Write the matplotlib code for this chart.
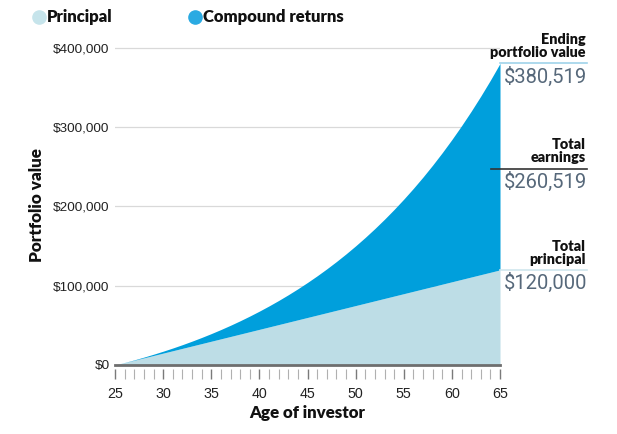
import matplotlib
matplotlib.use("Agg")
import matplotlib.pyplot as plt
from matplotlib.lines import Line2D
from matplotlib.ticker import FuncFormatter, MultipleLocator

# ---- data ----
ages = list(range(25, 66))
principal = [0, 3000, 6000, 9000, 12000, 15000, 18000, 21000, 24000, 27000,
             30000, 33000, 36000, 39000, 42000, 45000, 48000, 51000, 54000, 57000,
             60000, 63000, 66000, 69000, 72000, 75000, 78000, 81000, 84000, 87000,
             90000, 93000, 96000, 99000, 102000, 105000, 108000, 111000, 114000, 117000,
             120000]
total_value = [0, 3150, 6458, 9930, 13577, 17406, 21426, 25647, 30080, 34734,
               39620, 44751, 50139, 55796, 61736, 67973, 74521, 81397, 88617, 96198,
               104158, 112516, 121291, 130506, 140181, 150340, 161007, 172208, 183968, 196317,
               209282, 222897, 237191, 252201, 267961, 284509, 301884, 320129, 339285, 359399,
               380519]
y_ticks = [0, 100000, 200000, 300000, 400000]
x_ticks = [25, 30, 35, 40, 45, 50, 55, 60, 65]
legend_labels = ["Principal", "Compound returns"]
end_labels = ["Ending\nportfolio value", "Total\nearnings", "Total\nprincipal"]
end_values = ["$380,519", "$260,519", "$120,000"]

LIGHT = "#bddde6"
BLUE = "#009fdc"
TXT = "#222222"
VAL = "#56687a"
HEAD = ["Lato", "DejaVu Sans"]
HW = "heavy"
TICKF = ["Liberation Sans", "DejaVu Sans"]

W, H = 617, 434
fig = plt.figure(figsize=(W / 100, H / 100), dpi=100)

def fx(px):
    return px / W

def fy(py):
    return 1 - py / H

y0_px, top_px = 365, 40
px_per = 79.25 / 100000
ytop = (y0_px - top_px) / px_per
ax = fig.add_axes([fx(115), fy(y0_px), fx(500) - fx(115), (y0_px - top_px) / H])

ax.fill_between(ages, 0, principal, color=LIGHT, lw=0, zorder=2)
ax.fill_between(ages, principal, total_value, color=BLUE, lw=0, zorder=2)

ax.set_xlim(25, 65)
ax.set_ylim(0, ytop)
ax.set_yticks(y_ticks)
ax.yaxis.set_major_formatter(FuncFormatter(lambda v, p: f"${int(v):,}"))
ax.yaxis.grid(True, color="#d9d9d9", lw=0.9, zorder=0)
ax.set_axisbelow(True)
for s in ["top", "right", "left"]:
    ax.spines[s].set_visible(False)
ax.spines["bottom"].set_position(("outward", 3))
ax.spines["bottom"].set_visible(False)
ax.axhline(0, color="#6e6e6e", lw=2, zorder=3, clip_on=False)

ax.tick_params(axis="y", length=0, pad=4, labelsize=9.7, labelcolor=TXT)
for t in ax.get_yticklabels():
    t.set_family(TICKF)
ax.set_xticks(x_ticks)
ax.xaxis.set_minor_locator(MultipleLocator(1))
ax.tick_params(axis="x", which="major", length=7, width=1, color="#7a7a7a",
               pad=6, labelsize=10.3, labelcolor=TXT)
ax.tick_params(axis="x", which="minor", length=7, width=0.8, color="#b0b0b0")
for t in ax.get_xticklabels():
    t.set_family(TICKF)

fig.text(fx(37), fy(205), "Portfolio value", rotation=90, ha="center", va="center",
         fontsize=12.3, fontweight=HW, family=HEAD, color="#111111")
fig.text(fx(307.5), fy(413), "Age of investor", ha="center", va="center",
         fontsize=12.2, fontweight=HW, family=HEAD, color="#111111")

# legend
for (cx, col, lab) in [(39, "#c6e4eb", legend_labels[0]), (195, "#2aaae2", legend_labels[1])]:
    fig.add_artist(Line2D([fx(cx)], [fy(17)], marker="o", markersize=9.5, color=col,
                          lw=0, transform=fig.transFigure))
    fig.text(fx(cx + 8), fy(17), lab, ha="left", va="center", fontsize=12,
             fontweight=HW, family=HEAD, color="#111111")

# right-side annotations
heads_y = [46, 151, 253]
lines_y = [63, 169, 270]
vals_y = [77, 182, 283]
line_cols = ["#9fd3ea", "#333333", "#cfe6ee"]
line_x0 = [500, 491, 500]
for lab, val, hy, ly, vy, lc, lx in zip(end_labels, end_values, heads_y, lines_y,
                                         vals_y, line_cols, line_x0):
    fig.text(fx(586), fy(hy), lab, ha="right", va="center", fontsize=10.4,
             fontweight=HW, family=HEAD, color="#111111", linespacing=0.98)
    fig.add_artist(Line2D([fx(lx), fx(587)], [fy(ly), fy(ly)], color=lc, lw=1.2,
                          transform=fig.transFigure))
    fig.text(fx(504), fy(vy), val, ha="left", va="center", fontsize=14.5,
             family=["Roboto", "DejaVu Sans"], color=VAL)

fig.savefig("out.png", dpi=100)
